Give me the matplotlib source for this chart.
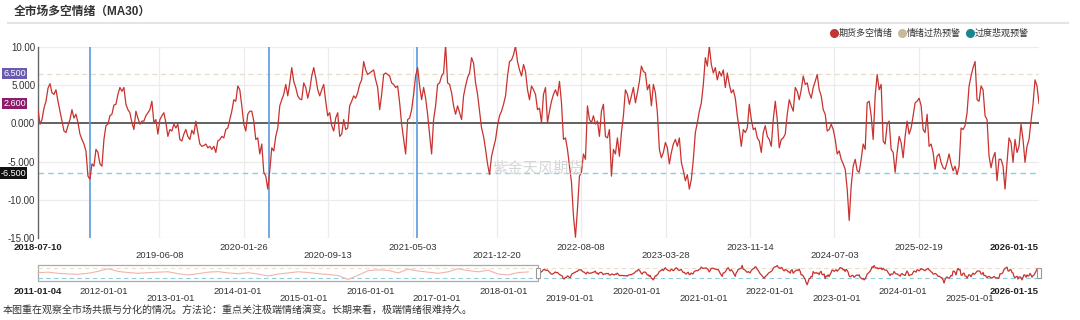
# ======================================================================
# SECTION 1: IMPORTS
# ======================================================================
import numpy as np
import pandas as pd
import matplotlib
matplotlib.use("Agg")
import matplotlib.pyplot as plt
import matplotlib.dates as mdates
import matplotlib.transforms as mtransforms
from matplotlib.lines import Line2D
from matplotlib.patches import Rectangle

plt.rcParams["font.family"] = ["Liberation Sans", "Noto Sans CJK SC", "DejaVu Sans"]


# ======================================================================
# SECTION 2: DATA
# ======================================================================
START, END = "2018-07-10", "2026-01-15"
HIST_START = "2011-01-04"

# MA30 sentiment, evenly spaced from START to END
sentiment = [
    1.8, -0.1, 0.5, 2.0, 2.9, 4.6, 5.2, 4.0, 3.8, 4.4,
    2.9, 1.6, 0.3, -1.0, -1.2, -0.3, 0.5, 1.8, 0.7, 1.2,
    0.1, -1.4, -2.1, -2.7, -3.6, -6.9, -7.3, -5.3, -5.6, -3.4,
    -3.8, -5.3, -5.6, -2.1, -0.3, -0.1, 1.0, 1.2, 2.4, 2.5,
    3.8, 4.7, 4.2, 4.7, 2.5, 1.8, 1.4, 0.1, -0.8, 1.6,
    0.7, -0.1, 0.3, 0.3, 1.0, 1.4, 1.8, 2.9, 0.1, 0.5,
    -1.4, 0.5, 1.0, 1.4, 0.1, -1.7, -0.8, -1.0, -0.1, -0.6,
    -0.1, -2.1, -2.3, -1.4, -0.8, -1.7, -2.1, -0.9, -1.4, 0.3,
    -1.2, -2.7, -3.0, -2.9, -2.7,
    -3.2, -3.0, -3.4, -3.0, -3.8, -2.3, -2.1, -1.7, -1.9, -0.8,
    -0.6, 0.5, 1.6, 3.1, 2.9, 4.9, 4.4, 2.3, -0.1, -1.0,
    1.2, 1.6, 1.6, 0.3, -2.1, -1.9, -4.0, -2.7, -6.4, -6.9,
    -8.6, -6.2, -3.2, -3.6, -1.7, -0.6, 2.3, 3.1, 3.8, 5.1,
    3.6, 5.3, 7.3, 5.5, 4.7, 3.6, 3.2, 3.1, 5.3, 4.7,
    3.3, 4.4, 6.2, 7.3, 6.0, 4.4, 3.6, 4.4, 5.1, 2.9,
    1.0, 1.4, -0.3, -1.0, 0.7, 1.4, -1.7, -1.4, 0.5, -0.8,
    -0.6, 2.3, 2.9, 3.6, 3.3, 4.0, 5.1, 5.7, 8.1, 7.0,
    6.4, 6.6,
    6.8, 7.0, 5.7, 4.7, 1.8, 3.8, 6.4, 6.6, 6.4, 6.2,
    5.3, 5.1, 4.7, 4.9, 2.7, -0.1, -2.1, -4.0, 0.5, 0.7,
    1.8, 3.8, 6.2, 7.3, 4.9, 3.1, 4.7, 3.3, 1.2, -1.5,
    -4.0, 0.5, 2.3, 5.1, 5.3, 6.2, 6.6, 10.3, 5.3, 5.1,
    4.0, 2.3, 1.2, 2.3, 1.4, 0.5, 3.6, 4.9, 6.0, 6.6,
    8.6, 7.9, 5.3, 3.8, 1.6, -0.6, -1.7, -3.4, -5.3, -6.7,
    -4.3, -3.2, -2.1, -0.3, 1.0, 1.6, 2.5, 3.6, 6.2, 8.1,
    8.3, 9.0, 10.1, 8.1, 7.0, 6.2, 7.7, 6.8, 4.4, 3.1,
    4.9, 4.4, 3.8, 1.8, 2.0, 0.1, 3.8, 4.7, 0.1, 1.6,
    2.9, 3.8, 4.4, 3.6, 5.5, 2.7, -2.1, -1.9, -3.4, -5.6,
    -7.7, -12.1, -14.9, -11.2, -6.9, -6.4, -4.0, -4.7, 2.3, 0.5,
    0.1, 1.0, -0.1, 0.3, -1.7, 1.6, 2.5, -1.7, -1.9, -0.8,
    -6.9, -3.4, -4.0, -1.9, -4.3, -1.2, 1.0, 4.4, 3.8, 2.5,
    3.6, 4.7, 2.7, 4.0, 5.5, 7.5, 6.8, 6.6, 4.4, 5.1,
    2.3, 5.1, 4.0, 1.4, -3.4, -4.5, -3.8, -2.5, -3.2, -5.3,
    -3.8, -2.7, -2.1, -3.0, -1.9, -5.1, -6.2, -7.5, -6.7, -8.6,
    -7.3, -4.7, -1.2, 0.1, 1.6,
    2.7, 5.1, 8.6, 7.5, 10.1, 7.7, 6.6, 7.3, 5.7, 6.8,
    6.2, 7.0, 4.7, 6.6, 5.1, 4.0, 4.4, 3.3, 1.0, -0.8,
    -3.0, -0.8, -1.2, -0.6, 2.5, 0.5, -0.8, -0.6, -1.9, -2.3,
    -3.8, -1.2, -0.3, -1.7, -2.1, -3.0, 0.5, 2.9, 0.5, -3.2,
    -2.1, -1.9, -1.4, 1.2, 3.1, 2.3, 1.6, 4.7, 4.2, 3.1,
    4.4, 6.2, 5.1, 5.3, 4.0, 3.3, 4.7, 5.5, 6.4, 4.4,
    3.6, 1.8, 1.2, -1.0, -0.8, -0.1, -0.8, -2.1, -4.0, -3.6,
    -4.7, -5.3, -6.0, -8.6, -12.7, -8.2, -5.6, -4.7, -6.2, -6.4,
    -4.7, -2.7,
    -3.4, 2.7, 2.9, 1.0, -2.1, 3.6, 6.4, 4.4, 5.1, -2.3,
    -2.7, -0.1, 0.3, -3.4, -3.8, -6.4, -3.8, -1.7, -2.5, -4.5,
    -1.7, 0.3, -1.4, -0.6, 1.0, 2.7, 2.9, 3.3, 2.3, -0.8,
    -1.2, 1.2, -3.0, -2.7, -3.8, -6.0, -4.3, -4.0, -5.1, -5.8,
    -6.0, -5.1, -4.0, -5.3, -6.2, -5.6, -6.7, -5.6, -0.6, -0.8,
    -0.3, 1.4, 4.9, 6.2, 7.3, 8.1, 3.1, 2.9, 4.9, 4.4,
    1.0, 0.5, -4.3, -5.8, -4.5, -3.8, -7.5, -4.7, -4.7, -5.6,
    -8.6, -5.1, -1.9, -2.5, -5.1, -2.1, -3.8, -3.0, -0.1, -2.1,
    -5.1, -3.0, -2.1, 0.3, 2.5, 5.7, 4.9, 2.6,
]

# earlier history, only visible in the zoom slider (2011-01 .. 2018-07)
early_sentiment = [
    0.8, 1.5, 0.0, -0.8, -1.3, 0.0, 2.5, 6.0, 2.5, 1.0,
    0.0, 0.8, 1.5, 2.0, -0.5, -2.2, -0.5, 1.5, 2.2, 0.5,
    -0.5, 0.8, -1.0, -3.5, -1.0, 0.5, 2.0, 1.0, -0.5, -1.5,
    -3.0, -8.0, -2.5, 3.5, 4.5, 3.8, 0.5, 5.5, 3.0, 1.5,
    0.0, 2.0, 6.0, 3.5, 2.0, 4.0, -1.0, -2.0, 1.0, 1.8,
]

overheat_level = 6.5
pessimism_level = -6.5
last_value_label = "2.600"

event_dates = ["2018-11-30", "2020-04-03", "2021-05-14"]

y_ticks = [10, 5, 0, -5, -10, -15]
y_tick_labels = ["10.00", "5.000", "0.000", "-5.000", "-10.00", "-15.00"]

x_tick_dates = ["2018-07-10", "2019-06-08", "2020-01-26", "2020-09-13",
                "2021-05-03", "2021-12-20", "2022-08-08", "2023-03-28",
                "2023-11-14", "2024-07-03", "2025-02-19", "2026-01-15"]

nav_tick_dates = ["2011-01-04", "2012-01-01", "2013-01-01", "2014-01-01",
                  "2015-01-01", "2016-01-01", "2017-01-01", "2018-01-01",
                  "2019-01-01", "2020-01-01", "2021-01-01", "2022-01-01",
                  "2023-01-01", "2024-01-01", "2025-01-01", "2026-01-15"]

legend_labels = ["期货多空情绪", "情绪过热预警", "过度悲观预警"]
legend_colors = ["#c23531", "#c9b99c", "#16868f"]

title = "全市场多空情绪（MA30）"
footer = "本图重在观察全市场共振与分化的情况。方法论：重点关注极端情绪演变。长期来看，极端情绪很难持久。"
watermark = "紫金天风期货"

dates = pd.date_range(START, END, periods=len(sentiment))
early_dates = pd.date_range(HIST_START, START, periods=len(early_sentiment) + 1)[:-1]


# ======================================================================
# SECTION 3: LAYOUT HELPERS (pixel -> figure fraction)
# ======================================================================
W, H = 1080, 320
def fx(px): return px / W
def fy(py): return 1 - py / H

TXT = "#333333"
GRID = "#ececec"

fig = plt.figure(figsize=(W / 100, H / 100), dpi=100)
fig.patch.set_facecolor("white")

# title + separator
fig.text(fx(14), fy(12), title, fontsize=8.5, fontweight="bold",
         color=TXT, va="center", ha="left")
fig.add_artist(Line2D([fx(8), fx(1068)], [fy(23), fy(23)],
                      color="#e4e4e4", lw=1.5))

# legend
for i, (lab, col) in enumerate(zip(legend_labels, legend_colors)):
    x0 = 834 + i * 68
    fig.add_artist(Line2D([fx(x0)], [fy(33)], marker="o", markersize=5.5,
                          color=col, lw=0))
    fig.text(fx(x0 + 5), fy(33), lab, fontsize=6.5, color=TXT,
             va="center", ha="left")


# ======================================================================
# SECTION 4: MAIN CHART
# ======================================================================
ax = fig.add_axes([fx(38), fy(238), (1039 - 38) / W, (238 - 47) / H])
ax.set_xlim(pd.Timestamp(START), pd.Timestamp(END))
ax.set_ylim(-15, 10)

for yv in y_ticks:
    if yv != 0:
        ax.axhline(yv, color=GRID, lw=0.9, zorder=0)
for d in x_tick_dates[1:-1]:
    ax.axvline(pd.Timestamp(d), color=GRID, lw=0.9, zorder=0)

ax.axhline(overheat_level, color="#e6dcc8", lw=0.9, ls=(0, (4, 3)), zorder=1)
ax.axhline(pessimism_level, color="#8ccfdc", lw=1.0, ls=(0, (4, 3)), zorder=1)
ax.axhline(0, color="#555555", lw=1.3, zorder=2)

for d in event_dates:
    ax.axvline(pd.Timestamp(d), color="#5b9bdc", lw=1.2, zorder=3)

ax.plot(dates, sentiment, color="#c8322f", lw=0.9, zorder=4)

for s in ["top", "right", "bottom"]:
    ax.spines[s].set_visible(False)
ax.spines["left"].set_color("#666666")
ax.spines["left"].set_linewidth(1.0)

ax.set_yticks(y_ticks)
ax.set_yticklabels(y_tick_labels, fontsize=7, color=TXT)
ax.tick_params(axis="y", length=0, pad=2)
ax.set_xticks([])

# value tags on the y axis
ytrans = mtransforms.blended_transform_factory(ax.transAxes, ax.transData)
tags = [(overheat_level, "6.500", "#6a5bb0"),
        (float(last_value_label), last_value_label, "#8c1d6b"),
        (pessimism_level, "-6.500", "#111111")]
for yv, txt, bg in tags:
    ax.text(-0.012, yv, txt, transform=ytrans, fontsize=6.5, color="white",
            ha="right", va="center",
            bbox=dict(boxstyle="square,pad=0.12", fc=bg, ec="none"))

# staggered date labels (first and last in bold)
xtrans = mtransforms.blended_transform_factory(ax.transData, fig.transFigure)
n = len(x_tick_dates)
for i, d in enumerate(x_tick_dates):
    first, last = i == 0, i == n - 1
    row = 0 if (i % 2 == 0 or last) else 1
    yy = fy(247) if row == 0 else fy(255.5)
    ha = "right" if last else "center"
    ax.text(pd.Timestamp(d), yy, d, transform=xtrans, fontsize=6.8,
            color="#222222" if (first or last) else TXT,
            fontweight="bold" if (first or last) else "normal",
            ha=ha, va="center")

fig.text(fx(538), fy(168), watermark, fontsize=11, color="#d6d6d6",
         ha="center", va="center", family=["Noto Sans CJK SC"])


# ======================================================================
# SECTION 5: ZOOM SLIDER
# ======================================================================
nav = fig.add_axes([fx(38), fy(281), (1039 - 38) / W, (281 - 265) / H])
nav.set_xlim(pd.Timestamp(HIST_START), pd.Timestamp(END))
nav.set_ylim(-10, 10.8)
nav.axis("off")

nav.axhline(overheat_level, color="#eadfcc", lw=0.8, ls=(0, (4, 3)))
nav.axhline(pessimism_level, color="#8ccfdc", lw=0.8, ls=(0, (4, 3)))
nav.plot(early_dates, early_sentiment, color="#f0b4b0", lw=0.8, clip_on=False)
nav.plot(dates, sentiment, color="#c8322f", lw=0.9, clip_on=False)

ntrans = mtransforms.blended_transform_factory(nav.transData, nav.transAxes)
x0 = mdates.date2num(pd.Timestamp(HIST_START))
x1 = mdates.date2num(pd.Timestamp(START))
x2 = mdates.date2num(pd.Timestamp(END))
nav.add_patch(Rectangle((x0, 0), x1 - x0, 1, transform=ntrans,
                        fc="none", ec="#aaaaaa", lw=0.9, clip_on=False))
hw = (x2 - x0) * 4 / 1001
for xc in (x1, x2):
    nav.add_patch(Rectangle((xc - hw / 2, 0.2), hw, 0.6, transform=ntrans,
                            fc="white", ec="#999999", lw=0.8, clip_on=False,
                            zorder=5))

ntx = mtransforms.blended_transform_factory(nav.transData, fig.transFigure)
m = len(nav_tick_dates)
for i, d in enumerate(nav_tick_dates):
    first, last = i == 0, i == m - 1
    row = 0 if (i % 2 == 1 or first) else 1
    yy = fy(291) if row == 0 else fy(298.5)
    ha = "right" if last else "center"
    nav.text(pd.Timestamp(d), yy, d, transform=ntx, fontsize=6.8,
             color="#222222" if (first or last) else TXT,
             fontweight="bold" if (first or last) else "normal",
             ha=ha, va="center")

fig.text(fx(3), fy(311), footer, fontsize=7.2, color=TXT,
         ha="left", va="center")

plt.savefig("out.png", dpi=100, facecolor="white")
